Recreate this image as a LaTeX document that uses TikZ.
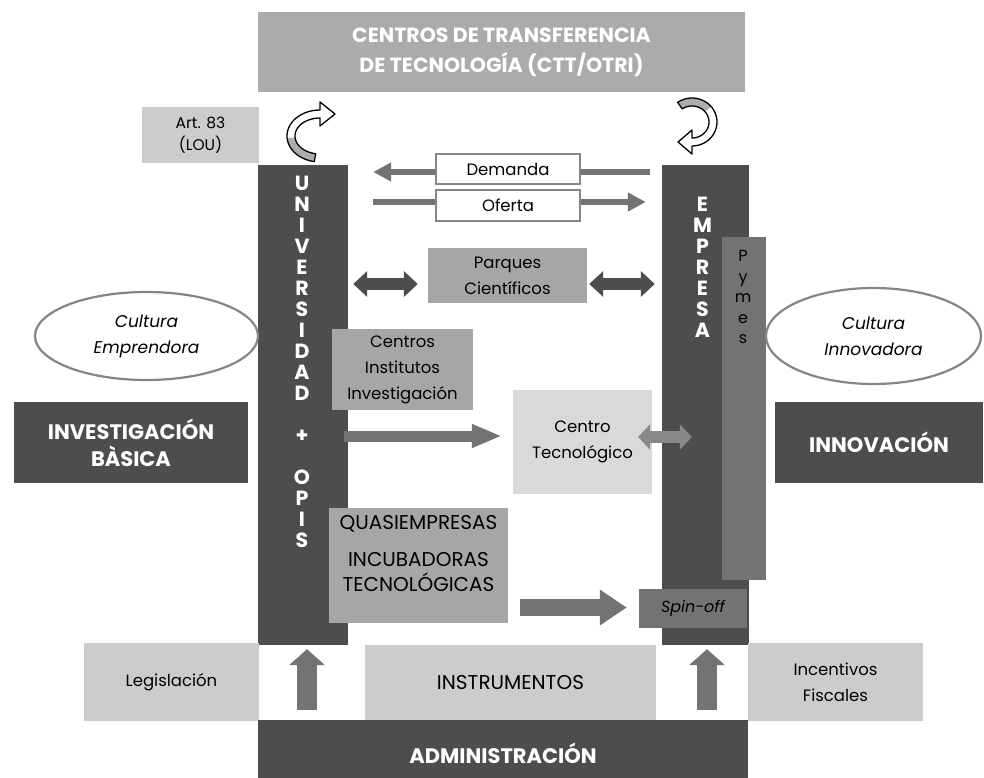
\documentclass[tikz,border=0pt]{standalone}
\usepackage{fontspec}
\setmainfont{Poppins}
\usetikzlibrary{
		calc,
		arrows.meta,
		shapes.geometric,
		positioning
	}
\definecolor{dgris}{HTML}{4D4D4D}
\definecolor{mgris}{HTML}{737373}
\definecolor{bgris}{HTML}{A6A6A6}
\definecolor{cttgris}{HTML}{ABABAB}
\definecolor{lgris}{HTML}{CCCCCC}
\definecolor{ctgris}{HTML}{D9D9D9}
\definecolor{borde}{HTML}{858585}
\pgfdeclarelayer{fondo}
\pgfsetlayers{fondo,main}
\tikzset{
		>=stealth,
		caja/.style={rectangle, inner sep=0pt, align=center, font=\fontsize{16.5}{26}\selectfont},
		mayus/.style={caja, font=\fontsize{20}{25}\selectfont},
		oscura/.style={caja, fill=dgris, text=white, font=\bfseries\fontsize{21}{27}\selectfont},
		letras/.style={inner sep=0pt, align=center, text=white, font=\bfseries\fontsize{20.5}{21}\selectfont},
		elipse/.style={ellipse, draw=borde, line width=2.2pt, fill=white, align=center, font=\itshape\fontsize{17}{26}\selectfont},
		flecha/.style={draw=mgris, line width=6pt, -{Triangle[width=18pt,length=18pt]}},
		doble/.style={draw=dgris, line width=12pt, {Triangle[width=25pt,length=14pt]}-{Triangle[width=25pt,length=14pt]}},
		curva/.style={draw=black, line width=1.3pt, line join=round}
	}

\begin{document}
\begin{tikzpicture}[x=1pt,y=-1pt]
    \useasboundingbox (0,0) rectangle (984,778);

    % top of the picture
    \node[caja, fill=cttgris, text=white, font=\bfseries\fontsize{20.5}{30}\selectfont, minimum width=487pt, minimum height=80pt] (ctt) at (501.5,52) {CENTROS DE TRANSFERENCIA\\DE TECNOLOGÍA (CTT/OTRI)};
    \node[caja, fill=lgris, font=\fontsize{15.5}{22}\selectfont, minimum width=117pt, minimum height=56pt] (art) at (200.5,135) {Art. 83\\(LOU)};

    % the curved arrows under the top box
    \fill[lgris!85!black] plot[domain=100:175,samples=20] ({320+33*cos(\x)},{136+26*sin(\x)}) -- plot[domain=175:100,samples=20] ({320+25*cos(\x)},{136+18*sin(\x)}) -- cycle;
    \draw[curva] plot[domain=100:270,samples=30] ({320+33*cos(\x)},{136+26*sin(\x)}) -- ++(0,-8) -- ++(15,12) -- ++(-15,12) -- ++(0,-8) -- plot[domain=270:100,samples=30] ({320+25*cos(\x)},{136+18*sin(\x)}) -- cycle;
    \fill[lgris!85!black] plot[domain=235:320,samples=20] ({692+25*cos(\x)},{122+24*sin(\x)}) -- plot[domain=320:235,samples=20] ({692+17*cos(\x)},{122+16*sin(\x)}) -- cycle;
    \draw[curva] plot[domain=235:450,samples=30] ({692+25*cos(\x)},{122+24*sin(\x)}) -- ++(0,8) -- ++(-14,-12) -- ++(14,-12) -- ++(0,8) -- plot[domain=450:235,samples=30] ({692+17*cos(\x)},{122+16*sin(\x)}) -- cycle;

    % the two columns
    \node[caja, fill=dgris, minimum width=90pt, minimum height=480pt] (univ) at (303,405) {};
    \node[caja, fill=dgris, minimum width=87pt, minimum height=480pt] (empresa) at (705.5,405) {};
    \node[caja, fill=mgris, minimum width=44pt, minimum height=343pt] (pymes) at (744,408.5) {};
    \node[letras] (univtxt) at (302,361.5) {U\\N\\I\\V\\E\\R\\S\\I\\D\\A\\D\\~\\+\\~\\O\\P\\I\\S};
    \node[letras] (emptxt) at (702.5,267.5) {E\\M\\P\\R\\E\\S\\A};
    \node[inner sep=0pt, align=center, font=\fontsize{16}{20.5}\selectfont] (pymestxt) at (743,297) {P\\y\\m\\e\\s};

    % demand and offer
    \node[caja, draw=borde, line width=1.5pt, fill=white, minimum width=144pt, minimum height=30pt] (demanda) at (508,169) {Demanda};
    \node[caja, draw=borde, line width=1.5pt, fill=white, minimum width=144pt, minimum height=31pt] (oferta) at (508,205.5) {Oferta};
    \begin{pgfonlayer}{fondo}
        \draw[flecha] ($(empresa.west |- demanda.center)+(-12,3)$) -- ($(univ.east |- demanda.center)+(25,3)$);
        \draw[flecha] ($(univ.east |- oferta.center)+(25,-3.5)$) -- ($(empresa.west |- oferta.center)+(-16,-3.5)$);
    \end{pgfonlayer}

    % the boxes in the middle
    \node[caja, fill=bgris, minimum width=159pt, minimum height=55pt] (parques) at (507.5,275.5) {Parques\\Científicos};
    \node[caja, fill=bgris, minimum width=141pt, minimum height=81pt] (centros) at (402.5,369.5) {Centros\\Institutos\\Investigación};
    \node[caja, fill=ctgris, minimum width=139pt, minimum height=104pt] (ct) at (582.5,442) {Centro\\Tecnológico};
    \node[caja, fill=bgris, minimum width=179pt, minimum height=115pt] (quasi) at (418.5,565.5) {};
    \node[mayus] (quasitxt) at (418.5,554) {QUASIEMPRESAS\\[12pt]INCUBADORAS\\TECNOLÓGICAS};
    \node[caja, fill=mgris, font=\itshape\fontsize{16}{20}\selectfont, minimum width=108pt, minimum height=39pt] (spin) at (693,608.5) {Spin-off};

    % the arrows in the middle
    \draw[doble] ($(univ.east |- parques.west)+(5,8.5)$) -- ($(parques.west)+(-10,8.5)$);
    \draw[doble] ($(parques.east)+(2,8.5)$) -- ($(empresa.west |- parques.east)+(-7,8.5)$);
    \draw[draw=mgris, line width=11pt, -{Triangle[width=22pt,length=30pt]}] ($(univ.east |- ct.west)+(-4,-6)$) -- ($(ct.west)+(-11,-6)$);
    \draw[draw=mgris!85!white, line width=12pt, {Triangle[width=25pt,length=12pt]}-{Triangle[width=25pt,length=12pt]}] ($(ct.east)+(-14,-5)$) -- ($(empresa.west |- ct.east)+(30,-5)$);
    \draw[draw=mgris, line width=17pt, -{Triangle[width=34pt,length=27pt]}] ($(quasi.east |- spin.west)+(12,-1)$) -- ($(spin.west)+(-12,-1)$);

    % the sides
    \node[elipse, minimum width=223pt, minimum height=88pt] (cemp) at (146.5,336) {Cultura\\Emprendora};
    \node[elipse, minimum width=215pt, minimum height=96pt] (cinn) at (873.5,336) {Cultura\\Innovadora};
    \node[oscura, minimum width=234pt, minimum height=81pt] (invb) at (131,442.5) {INVESTIGACIÓN\\BÀSICA};
    \node[oscura, minimum width=208pt, minimum height=81pt] (innov) at (879,442.5) {INNOVACIÓN};

    % the bottom
    \node[caja, fill=lgris, minimum width=175pt, minimum height=78pt] (legis) at (171.5,682) {Legislación};
    \node[mayus, fill=lgris, minimum width=291pt, minimum height=76pt] (instr) at (510.5,683) {INSTRUMENTOS};
    \node[caja, fill=lgris, minimum width=175pt, minimum height=78pt] (incent) at (835.5,682) {Incentivos\\Fiscales};
    \node[oscura, minimum width=490pt, minimum height=66pt] (admin) at (503,753) {ADMINISTRACIÓN};
    \draw[draw=mgris, line width=20pt, -{Triangle[width=35pt,length=16pt]}] ($(univ.south |- admin.north)+(4,-10)$) -- ($(univ.south)+(4,4)$);
    \draw[draw=mgris, line width=20pt, -{Triangle[width=35pt,length=16pt]}] ($(empresa.south |- admin.north)+(1.5,-10)$) -- ($(empresa.south)+(1.5,4)$);

\end{tikzpicture}
\end{document}
